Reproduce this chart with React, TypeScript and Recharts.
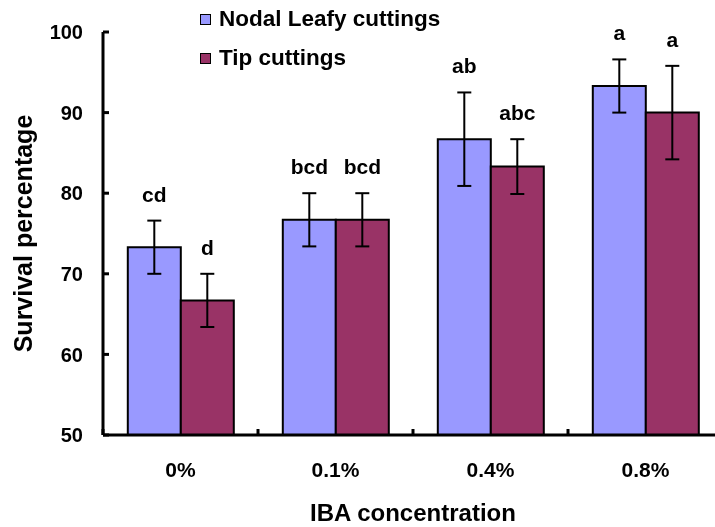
import React from 'react';
import { BarChart, Bar, XAxis, YAxis, ErrorBar, LabelList, Legend, Label } from 'recharts';

const concentrations = ['0%', '0.1%', '0.4%', '0.8%'];
const nodalLeafy = [73.3, 76.7, 86.7, 93.3];
const tipCuttings = [66.7, 76.7, 83.3, 90.0];
const nodalErr = [3.3, 3.3, 5.8, 3.3];
const tipErr = [3.3, 3.3, 3.4, 5.8];
const nodalLetters = ['cd', 'bcd', 'ab', 'a'];
const tipLetters = ['d', 'bcd', 'abc', 'a'];
const yTicks = [50, 60, 70, 80, 90, 100];
const yMin = 50;

const data = concentrations.map((conc, i) => ({
  conc,
  nodal: nodalLeafy[i],
  nodalErr: nodalErr[i],
  nodalSig: nodalLetters[i],
  tip: tipCuttings[i],
  tipErr: tipErr[i],
  tipSig: tipLetters[i],
}));

const font = 'Arial, "Liberation Sans", sans-serif';

// letter sits a fixed distance above the error bar cap
const letterLabel = (values: number[], errs: number[]) => (props: any) => {
  const { x, y, width, height, value, index } = props;
  const pxPerUnit = height / (values[index] - yMin);
  const capY = y - errs[index] * pxPerUnit;
  return (
    <text
      x={x + width / 2}
      y={capY - 19}
      textAnchor="middle"
      fontFamily={font}
      fontWeight="bold"
      fontSize={21}
      fill="#000"
    >
      {value}
    </text>
  );
};

// category label plus an inward tick mark on the left edge of the group
const CategoryTick = (props: any) => {
  const { x, y, payload } = props;
  const edge = x - (payload?.offset ?? 0);
  return (
    <g>
      {payload?.offset ? (
        <line x1={edge} x2={edge} y1={y} y2={y - 6} stroke="#000" strokeWidth={3} />
      ) : null}
      <text
        x={x}
        y={y + 27}
        dy="0.71em"
        textAnchor="middle"
        fontFamily={font}
        fontWeight="bold"
        fontSize={21}
        fill="#000"
      >
        {payload.value}
      </text>
    </g>
  );
};

const renderLegend = (props: any) => (
  <div
    style={{
      width: 300,
      fontFamily: font,
      fontWeight: 'bold',
      fontSize: 22.5,
      lineHeight: '26px',
      color: '#000',
    }}
  >
    {props.payload.map((entry: any, i: number) => (
      <div
        key={entry.value}
        style={{ display: 'flex', alignItems: 'center', height: 26, marginTop: i === 0 ? 0 : 13 }}
      >
        <span
          style={{
            display: 'inline-block',
            width: 9,
            height: 9,
            background: entry.color,
            border: '1.5px solid #000',
          }}
        />
        <span style={{ marginLeft: 8, whiteSpace: 'nowrap' }}>{entry.value}</span>
      </div>
    ))}
  </div>
);

export default function App() {
  return (
    <div
      style={{ position: 'fixed', top: 0, left: 8, width: 707, height: 527, overflow: 'hidden' }}
    >
      <BarChart
        width={707}
        height={527}
        data={data}
        margin={{ top: 32, right: -8, left: 0, bottom: 0 }}
        barCategoryGap="16%"
        barGap={0}
      >
        <XAxis
          dataKey="conc"
          height={92}
          axisLine={{ stroke: '#000', strokeWidth: 3 }}
          tickLine={false}
          tickSize={0}
          tickMargin={0}
          tick={<CategoryTick />}
        >
          <Label
            value="IBA concentration"
            position="insideBottom"
            offset={6}
            fill="#000"
            fontFamily={font}
            fontWeight="bold"
            fontSize={24}
          />
        </XAxis>
        <YAxis
          width={95}
          domain={[50, 100]}
          ticks={yTicks}
          allowDataOverflow
          tickSize={-6}
          tickMargin={26}
          axisLine={{ stroke: '#000', strokeWidth: 3 }}
          tickLine={{ stroke: '#000', strokeWidth: 3 }}
          tick={{ fill: '#000', fontFamily: font, fontWeight: 'bold', fontSize: 20 }}
        >
          <Label
            value="Survival percentage"
            position="insideLeft"
            angle={-90}
            offset={15}
            textAnchor="middle"
            fill="#000"
            fontFamily={font}
            fontWeight="bold"
            fontSize={25}
          />
        </YAxis>
        <Legend
          layout="vertical"
          align="center"
          verticalAlign="middle"
          content={renderLegend}
          wrapperStyle={{ top: 6, left: 192, width: 300 }}
        />
        <Bar
          dataKey="nodal"
          name="Nodal Leafy cuttings"
          fill="#9999FF"
          stroke="#000"
          strokeWidth={2}
          isAnimationActive={false}
        >
          <ErrorBar dataKey="nodalErr" width={7} stroke="#000" strokeWidth={2} direction="y" />
          <LabelList dataKey="nodalSig" content={letterLabel(nodalLeafy, nodalErr)} />
        </Bar>
        <Bar
          dataKey="tip"
          name="Tip cuttings"
          fill="#993366"
          stroke="#000"
          strokeWidth={2}
          isAnimationActive={false}
        >
          <ErrorBar dataKey="tipErr" width={7} stroke="#000" strokeWidth={2} direction="y" />
          <LabelList dataKey="tipSig" content={letterLabel(tipCuttings, tipErr)} />
        </Bar>
      </BarChart>
    </div>
  );
}
